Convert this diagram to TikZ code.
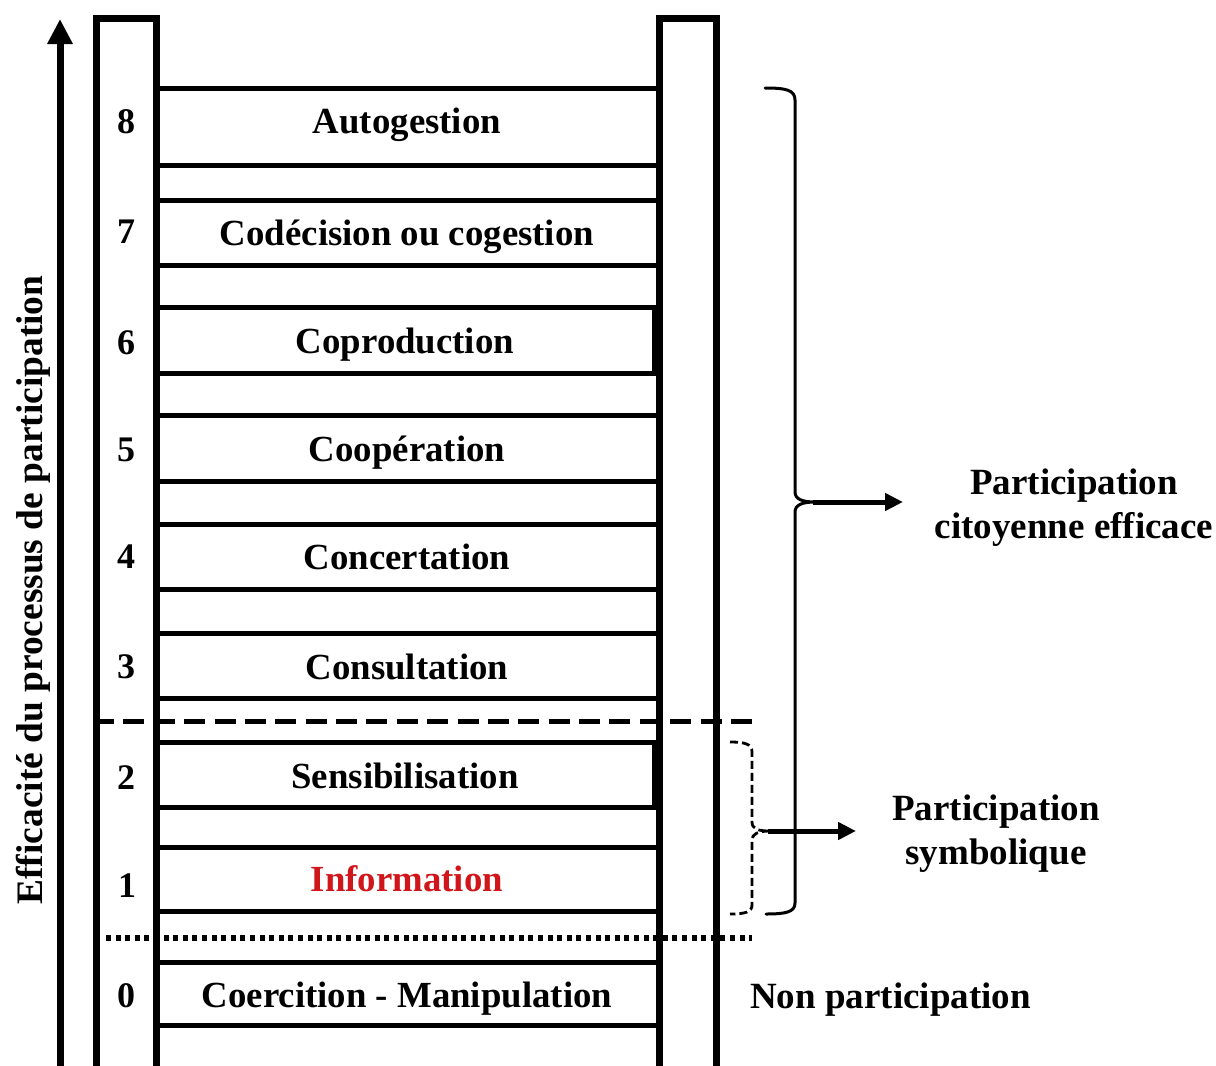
\documentclass[tikz,border=0pt]{standalone}
\usepackage{fontspec}
\setmainfont{Liberation Serif}
\usetikzlibrary{arrows.meta}
\definecolor{infored}{RGB}{208,22,26}
\begin{document}
\begin{tikzpicture}[x=1pt,y=-1pt,
  rail/.style={line width=7pt,line cap=butt,line join=miter},
  rungbox/.style={line width=5pt},
  lbl/.style={anchor=base,inner sep=0pt,font=\fontsize{36.8}{40}\selectfont\bfseries},
  num/.style={anchor=base,inner sep=0pt,font=\fontsize{36}{40}\selectfont\bfseries},
  side/.style={anchor=base,inner sep=0pt,font=\fontsize{37}{40}\selectfont\bfseries},
  bigarrow/.style={line width=5pt,-{Triangle[length=18pt,width=17pt]}},
  bracebig/.style={line width=3pt,line cap=round},
  bracesmall/.style={line width=2.8pt,dash pattern=on 8pt off 4pt},
]
\useasboundingbox (0,0) rectangle (1216,1066);

% vertical axis arrow
\coordinate (axbot) at (60,1066);
\coordinate (axtop) at (60,19);
\draw[line width=7pt,-{Triangle[length=25pt,width=24pt]}] (axbot) -- (axtop);
\node[side,rotate=90,font=\fontsize{37.4}{40}\selectfont\bfseries] (axlbl) at (42,590) {Efficacité du processus de participation};

% rails
\draw[rail] (96.5,1066) -- (96.5,18.5) -- (156,18.5) -- (156,1066);
\draw[rail] (659,1066) -- (659,18.5) -- (716.5,18.5) -- (716.5,1066);

% rungs
\draw[rungbox] (157,88) rectangle (659,165);
\draw[rungbox] (157,200) rectangle (659,265);
\draw[rungbox] (157,307) rectangle (654,373);
\draw[rungbox] (157,415) rectangle (659,481);
\draw[rungbox] (157,524) rectangle (659,589);
\draw[rungbox] (157,633) rectangle (659,698);
\draw[rungbox] (157,742) rectangle (654,807);
\draw[rungbox] (157,847) rectangle (659,911);
\draw[rungbox] (157,962) rectangle (659,1025);

% rung labels
\node[lbl] (l8) at (407,133) {Autogestion};
\node[lbl] (l7) at (407,245) {Codécision ou cogestion};
\node[lbl] (l6) at (405,353) {Coproduction};
\node[lbl] (l5) at (407,461) {Coopération};
\node[lbl] (l4) at (407,569) {Concertation};
\node[lbl] (l3) at (407,679) {Consultation};
\node[lbl] (l2) at (405,788) {Sensibilisation};
\node[lbl,text=infored] (l1) at (407,891) {Information};
\node[lbl] (l0) at (407,1007) {Coercition - Manipulation};

% numbers
\node[num] (n8) at (126,133) {8};
\node[num] (n7) at (126,243) {7};
\node[num] (n6) at (126,354) {6};
\node[num] (n5) at (126,461) {5};
\node[num] (n4) at (126,568) {4};
\node[num] (n3) at (126,678) {3};
\node[num] (n2) at (126,789) {2};
\node[num] (n1) at (127,897) {1};
\node[num] (n0) at (126,1007) {0};

% separators
\draw[line width=5pt,dash pattern=on 21pt off 9.38pt] (93,721) -- (752,721);
\draw[line width=5.5pt,dash pattern=on 5pt off 4.6pt] (106,938) -- (752,938);

% big brace
\draw[bracebig] (765,88) .. controls (786,88) and (795,90) .. (795,100)
  -- (795,492) .. controls (795,499) and (802,502) .. (815,502)
  .. controls (802,502) and (795,505) .. (795,512)
  -- (795,903) .. controls (795,912) and (786,914) .. (766,914);
\coordinate (bigtip) at (813,502);
\coordinate (bigend) at (903,502);
\draw[bigarrow] (bigtip) -- (bigend);
\node[side] (pce1) at (1074,494) {Participation};
\node[side] (pce2) at (1074,538) {citoyenne efficace};

% small dashed brace
\draw[bracesmall] (730,742) .. controls (745,742) and (752,744) .. (752,752)
  -- (752,822) .. controls (752,829) and (758,831) .. (770,831)
  .. controls (758,831) and (752,834) .. (752,840)
  -- (752,905) .. controls (752,912) and (745,914) .. (730,914);
\coordinate (smalltip) at (768,831);
\coordinate (smallend) at (856,831);
\draw[bigarrow] (smalltip) -- (smallend);
\node[side] (ps1) at (996,820) {Participation};
\node[side] (ps2) at (996,864) {symbolique};

\node[side,anchor=base west] (np) at (750,1008) {Non participation};
\end{tikzpicture}
\end{document}
